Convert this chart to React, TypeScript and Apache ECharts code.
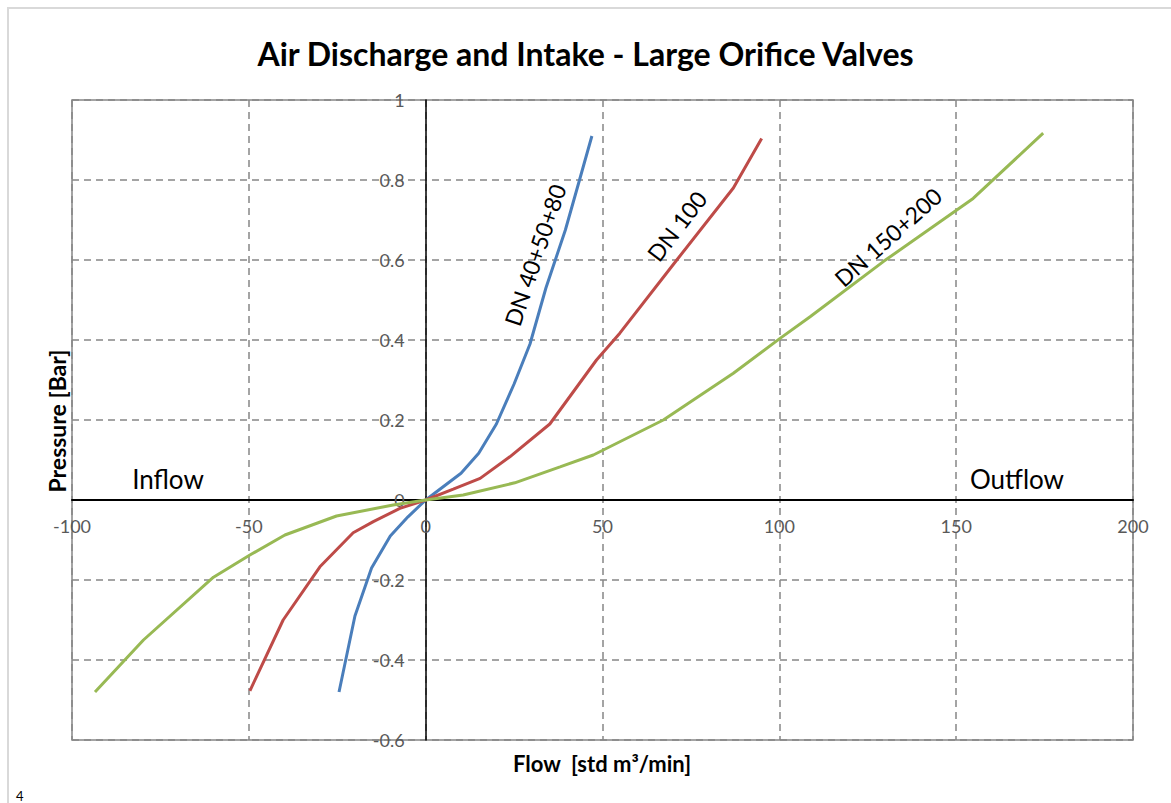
import React, { useEffect, useRef } from "react";
import * as echarts from "echarts";

// ---- Data ----
const blueX = [-24.5, -20, -15.3, -10, -5, 0, 10, 15, 20, 25, 29.5, 34, 39.5, 43.5, 47];
const blueY = [-0.48, -0.29, -0.17, -0.09, -0.042, 0, 0.067, 0.117, 0.19, 0.29, 0.39, 0.53, 0.675, 0.8, 0.91];

const redX = [-49.7, -40.3, -29.9, -20.5, -14.8, -7.3, 0, 7.8, 15.4, 23.8, 35.1, 48.3, 54.9, 71, 87, 95];
const redY = [-0.477, -0.3, -0.167, -0.082, -0.054, -0.021, 0, 0.027, 0.054, 0.108, 0.19, 0.35, 0.417, 0.6, 0.78, 0.904];

const greenX = [-93.5, -79.8, -60, -49.7, -39.8, -25.2, -9.2, 0, 10.6, 25.2, 38, 47.4, 67.2, 87, 100.2, 108.7, 129.4, 154.8, 174.6];
const greenY = [-0.48, -0.35, -0.193, -0.1375, -0.0875, -0.04, -0.0125, 0, 0.0125, 0.043, 0.083, 0.1125, 0.2, 0.317, 0.404, 0.458, 0.596, 0.754, 0.917];

const seriesNames = ["DN 40+50+80", "DN 100", "DN 150+200"];
const seriesColors = ["#4A7EBB", "#BE4B48", "#98B954"];

// curve label anchors (data coords) and angles (deg)
const labelAnchorX = [30.9, 71.0, 130.7];
const labelAnchorY = [0.6125, 0.685, 0.6575];
const labelAngles = [71.4, 52.6, 42];

const xMin = -100, xMax = 200, xStep = 50;
const yMin = -0.6, yMax = 1, yStep = 0.2;

const FONT = "Lato, 'Open Sans', sans-serif";

const GRID_LEFT = 72, GRID_TOP = 100, GRID_W = 1061, GRID_H = 640;

function pairs(xs: number[], ys: number[]) {
  return xs.map((x, i) => [x, ys[i]]);
}

export default function App() {
  const ref = useRef<HTMLDivElement>(null);
  useEffect(() => {
    if (!ref.current) return;
    const chart = echarts.init(ref.current, undefined, { renderer: "svg" });
    const gridColor = "#868686";
    // pixel offsets that bring both axes (with their labels) onto the zero lines
    const zeroYpx = GRID_TOP + GRID_H * (yMax / (yMax - yMin));
    const zeroXpx = GRID_LEFT + GRID_W * ((0 - xMin) / (xMax - xMin));
    const option: any = {
      animation: false,
      backgroundColor: "#ffffff",
      title: {
        text: "Air Discharge and Intake - Large Orifice Valves",
        left: "center",
        top: 32,
        textStyle: { fontFamily: FONT, fontSize: 32, fontWeight: "bold", color: "#000" },
      },
      grid: {
        left: GRID_LEFT,
        top: GRID_TOP,
        width: GRID_W,
        height: GRID_H,
        show: true,
        borderColor: gridColor,
        borderWidth: 1.5,
        backgroundColor: "transparent",
      },
      xAxis: {
        type: "value",
        min: xMin,
        max: xMax,
        interval: xStep,
        position: "bottom",
        offset: -(GRID_TOP + GRID_H - zeroYpx),
        axisLine: { onZero: false, lineStyle: { color: "#000", width: 2 } },
        axisTick: { show: false },
        axisLabel: {
          margin: 17,
          fontFamily: FONT,
          fontSize: 18,
          color: "#595959",
          showMinLabel: true,
          showMaxLabel: true,
        },
        splitLine: { show: true, lineStyle: { color: gridColor, width: 1.5, type: [7, 5] } },
        z: 5,
      },
      yAxis: {
        type: "value",
        min: yMin,
        max: yMax,
        interval: yStep,
        position: "left",
        offset: -(zeroXpx - GRID_LEFT),
        axisLine: { onZero: false, lineStyle: { color: "#000", width: 1.5 } },
        axisTick: { show: false },
        axisLabel: {
          margin: 21,
          fontFamily: FONT,
          fontSize: 18,
          color: "#595959",
          showMinLabel: true,
          showMaxLabel: true,
          formatter: (v: number) => {
            const r = Math.round(v * 10) / 10;
            return r === 0 ? "0" : String(r);
          },
        },
        splitLine: { show: true, lineStyle: { color: gridColor, width: 1.5, type: [7, 5] } },
        z: 5,
      },
      series: [
        { name: seriesNames[0], type: "line", data: pairs(blueX, blueY), showSymbol: false, lineStyle: { width: 3, color: seriesColors[0] }, itemStyle: { color: seriesColors[0] }, z: 6 },
        { name: seriesNames[1], type: "line", data: pairs(redX, redY), showSymbol: false, lineStyle: { width: 3, color: seriesColors[1] }, itemStyle: { color: seriesColors[1] }, z: 6 },
        { name: seriesNames[2], type: "line", data: pairs(greenX, greenY), showSymbol: false, lineStyle: { width: 3, color: seriesColors[2] }, itemStyle: { color: seriesColors[2] }, z: 6 },
      ],
    };
    chart.setOption(option);

    const curveLabels = seriesNames.map((name, i) => {
      const p = chart.convertToPixel({ gridIndex: 0 }, [labelAnchorX[i], labelAnchorY[i]]) as number[];
      return {
        type: "text",
        x: p[0],
        y: p[1],
        rotation: (labelAngles[i] * Math.PI) / 180,
        z: 100,
        style: {
          text: name,
          fontFamily: FONT,
          fontSize: 23,
          fill: "#000",
          align: "center",
          verticalAlign: "middle",
        },
      };
    });

    chart.setOption({
      graphic: [
        { type: "line", shape: { x1: 7, y1: 8, x2: 1171, y2: 8 }, style: { stroke: "#d9d9d9", lineWidth: 2 } },
        { type: "line", shape: { x1: 8, y1: 7, x2: 8, y2: 803 }, style: { stroke: "#d9d9d9", lineWidth: 2 } },
        {
          type: "text", x: 57, y: 421, rotation: Math.PI / 2,
          style: { text: "Pressure [Bar]", fontFamily: FONT, fontSize: 23, fontWeight: "bold", fill: "#000", align: "center", verticalAlign: "middle" },
        },
        {
          type: "text", x: 602, y: 763,
          style: { text: "Flow  [std m³/min]", fontFamily: FONT, fontSize: 22, fontWeight: "bold", fill: "#000", align: "center", verticalAlign: "middle" },
        },
        {
          type: "text", x: 168, y: 479,
          style: { text: "Inflow", fontFamily: FONT, fontSize: 26, fill: "#000", align: "center", verticalAlign: "middle" },
        },
        {
          type: "text", x: 1017, y: 479,
          style: { text: "Outflow", fontFamily: FONT, fontSize: 26, fill: "#000", align: "center", verticalAlign: "middle" },
        },
        {
          type: "text", x: 16, y: 789,
          style: { text: "4", fontFamily: FONT, fontSize: 13, fill: "#000", align: "left", verticalAlign: "top" },
        },
        ...curveLabels,
      ],
    });

    return () => chart.dispose();
  }, []);
  return (
    <div
      ref={ref}
      style={{ position: "fixed", left: 0, top: 0, width: 1171, height: 803, background: "#fff" }}
    />
  );
}
